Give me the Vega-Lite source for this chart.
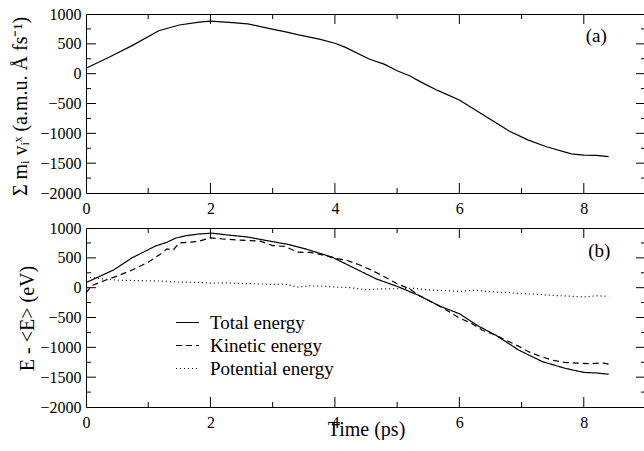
{
  "$schema": "https://vega.github.io/schema/vega-lite/v6.json",
  "padding": {"left": 9, "top": 5, "right": 0, "bottom": 0},
  "spacing": 2,
  "config": {
    "font": "Liberation Serif",
    "view": {"stroke": "black", "strokeWidth": 1},
    "axis": {
      "domain": false,
      "ticks": false,
      "labelColor": "black",
      "titleColor": "black",
      "labelFont": "Liberation Serif",
      "titleFont": "Liberation Serif",
      "labelFontSize": 16,
      "titleFontSize": 20,
      "titleFontWeight": "normal",
      "grid": false,
      "labelOverlap": false,
      "labelFlush": false
    },
    "tick": {"thickness": 1, "color": "black", "opacity": 1},
    "legend": {
      "labelFont": "Liberation Serif",
      "labelFontSize": 19,
      "labelColor": "black"
    }
  },
  "datasets": {
    "a": [
      {"t": 0, "v": 90}, {"t": 0.37, "v": 275}, {"t": 0.74, "v": 470}, {"t": 1.17, "v": 720},
      {"t": 1.5, "v": 816}, {"t": 1.82, "v": 865}, {"t": 2.0, "v": 880}, {"t": 2.3, "v": 860},
      {"t": 2.6, "v": 835}, {"t": 2.97, "v": 750}, {"t": 3.21, "v": 700}, {"t": 3.42, "v": 650},
      {"t": 3.75, "v": 580}, {"t": 4.0, "v": 510}, {"t": 4.17, "v": 440}, {"t": 4.55, "v": 245},
      {"t": 4.8, "v": 155}, {"t": 5.0, "v": 50}, {"t": 5.2, "v": -35}, {"t": 5.4, "v": -150},
      {"t": 5.66, "v": -285}, {"t": 6.0, "v": -440}, {"t": 6.4, "v": -700}, {"t": 6.8, "v": -960},
      {"t": 7.1, "v": -1110}, {"t": 7.4, "v": -1225}, {"t": 7.8, "v": -1345}, {"t": 8.0, "v": -1365},
      {"t": 8.2, "v": -1370}, {"t": 8.4, "v": -1390}
    ],
    "b": [
      {"s": "Total energy", "t": 0, "v": 85}, {"s": "Total energy", "t": 0.2, "v": 180},
      {"s": "Total energy", "t": 0.45, "v": 300}, {"s": "Total energy", "t": 0.74, "v": 500},
      {"s": "Total energy", "t": 1.12, "v": 700}, {"s": "Total energy", "t": 1.3, "v": 760},
      {"s": "Total energy", "t": 1.44, "v": 830}, {"s": "Total energy", "t": 1.6, "v": 870},
      {"s": "Total energy", "t": 1.82, "v": 900}, {"s": "Total energy", "t": 2.03, "v": 913},
      {"s": "Total energy", "t": 2.3, "v": 880}, {"s": "Total energy", "t": 2.59, "v": 850},
      {"s": "Total energy", "t": 2.9, "v": 790}, {"s": "Total energy", "t": 3.26, "v": 723},
      {"s": "Total energy", "t": 3.53, "v": 649}, {"s": "Total energy", "t": 3.96, "v": 510},
      {"s": "Total energy", "t": 4.28, "v": 344}, {"s": "Total energy", "t": 4.66, "v": 149},
      {"s": "Total energy", "t": 5.03, "v": 10}, {"s": "Total energy", "t": 5.35, "v": -130},
      {"s": "Total energy", "t": 5.68, "v": -307}, {"s": "Total energy", "t": 6.0, "v": -436},
      {"s": "Total energy", "t": 6.3, "v": -640}, {"s": "Total energy", "t": 6.59, "v": -799},
      {"s": "Total energy", "t": 6.96, "v": -1049}, {"s": "Total energy", "t": 7.34, "v": -1242},
      {"s": "Total energy", "t": 7.71, "v": -1354}, {"s": "Total energy", "t": 8.0, "v": -1420},
      {"s": "Total energy", "t": 8.2, "v": -1430}, {"s": "Total energy", "t": 8.4, "v": -1450},
      {"s": "Kinetic energy", "t": 0, "v": -85}, {"s": "Kinetic energy", "t": 0.1, "v": 37},
      {"s": "Kinetic energy", "t": 0.3, "v": 120}, {"s": "Kinetic energy", "t": 0.5, "v": 194},
      {"s": "Kinetic energy", "t": 0.75, "v": 300}, {"s": "Kinetic energy", "t": 1.0, "v": 427},
      {"s": "Kinetic energy", "t": 1.2, "v": 566}, {"s": "Kinetic energy", "t": 1.3, "v": 650},
      {"s": "Kinetic energy", "t": 1.4, "v": 630}, {"s": "Kinetic energy", "t": 1.5, "v": 750},
      {"s": "Kinetic energy", "t": 1.8, "v": 773}, {"s": "Kinetic energy", "t": 2.0, "v": 835},
      {"s": "Kinetic energy", "t": 2.2, "v": 816}, {"s": "Kinetic energy", "t": 2.6, "v": 789},
      {"s": "Kinetic energy", "t": 2.8, "v": 780}, {"s": "Kinetic energy", "t": 3.0, "v": 706},
      {"s": "Kinetic energy", "t": 3.2, "v": 690}, {"s": "Kinetic energy", "t": 3.4, "v": 595},
      {"s": "Kinetic energy", "t": 3.6, "v": 590}, {"s": "Kinetic energy", "t": 3.8, "v": 550},
      {"s": "Kinetic energy", "t": 4.0, "v": 494}, {"s": "Kinetic energy", "t": 4.2, "v": 455},
      {"s": "Kinetic energy", "t": 4.4, "v": 380}, {"s": "Kinetic energy", "t": 4.6, "v": 288},
      {"s": "Kinetic energy", "t": 4.8, "v": 180}, {"s": "Kinetic energy", "t": 5.0, "v": 66},
      {"s": "Kinetic energy", "t": 5.2, "v": -18}, {"s": "Kinetic energy", "t": 5.35, "v": -130},
      {"s": "Kinetic energy", "t": 5.68, "v": -307}, {"s": "Kinetic energy", "t": 6.0, "v": -508},
      {"s": "Kinetic energy", "t": 6.2, "v": -600}, {"s": "Kinetic energy", "t": 6.37, "v": -714},
      {"s": "Kinetic energy", "t": 6.55, "v": -780}, {"s": "Kinetic energy", "t": 6.75, "v": -881},
      {"s": "Kinetic energy", "t": 6.95, "v": -980}, {"s": "Kinetic energy", "t": 7.12, "v": -1077},
      {"s": "Kinetic energy", "t": 7.3, "v": -1150}, {"s": "Kinetic energy", "t": 7.5, "v": -1216},
      {"s": "Kinetic energy", "t": 7.7, "v": -1254}, {"s": "Kinetic energy", "t": 7.9, "v": -1265},
      {"s": "Kinetic energy", "t": 8.1, "v": -1275}, {"s": "Kinetic energy", "t": 8.3, "v": -1260},
      {"s": "Kinetic energy", "t": 8.4, "v": -1282},
      {"s": "Potential energy", "t": 0, "v": 177}, {"s": "Potential energy", "t": 0.25, "v": 150},
      {"s": "Potential energy", "t": 0.5, "v": 125}, {"s": "Potential energy", "t": 0.75, "v": 120},
      {"s": "Potential energy", "t": 1.0, "v": 115}, {"s": "Potential energy", "t": 1.25, "v": 110},
      {"s": "Potential energy", "t": 1.5, "v": 93}, {"s": "Potential energy", "t": 1.75, "v": 90},
      {"s": "Potential energy", "t": 2.0, "v": 77}, {"s": "Potential energy", "t": 2.25, "v": 80},
      {"s": "Potential energy", "t": 2.5, "v": 70}, {"s": "Potential energy", "t": 2.75, "v": 65},
      {"s": "Potential energy", "t": 3.0, "v": 53}, {"s": "Potential energy", "t": 3.2, "v": 60},
      {"s": "Potential energy", "t": 3.4, "v": 10}, {"s": "Potential energy", "t": 3.6, "v": 30},
      {"s": "Potential energy", "t": 3.8, "v": 25}, {"s": "Potential energy", "t": 4.0, "v": 10},
      {"s": "Potential energy", "t": 4.25, "v": 0}, {"s": "Potential energy", "t": 4.5, "v": -35},
      {"s": "Potential energy", "t": 4.75, "v": -20}, {"s": "Potential energy", "t": 5.0, "v": -18},
      {"s": "Potential energy", "t": 5.25, "v": -10}, {"s": "Potential energy", "t": 5.5, "v": -35},
      {"s": "Potential energy", "t": 5.75, "v": -50}, {"s": "Potential energy", "t": 6.0, "v": -63},
      {"s": "Potential energy", "t": 6.25, "v": -40}, {"s": "Potential energy", "t": 6.5, "v": -70},
      {"s": "Potential energy", "t": 6.75, "v": -80}, {"s": "Potential energy", "t": 7.0, "v": -102},
      {"s": "Potential energy", "t": 7.25, "v": -110}, {"s": "Potential energy", "t": 7.5, "v": -130},
      {"s": "Potential energy", "t": 7.75, "v": -140}, {"s": "Potential energy", "t": 8.0, "v": -157},
      {"s": "Potential energy", "t": 8.2, "v": -135}, {"s": "Potential energy", "t": 8.4, "v": -147}
    ],
    "la": [{"t": 8.2, "v": 632, "label": "(a)"}],
    "lb": [{"t": 8.25, "v": 616, "label": "(b)"}],
    "xmaj": [{"t": 2}, {"t": 4}, {"t": 6}, {"t": 8}],
    "xmin": [{"t": 1}, {"t": 3}, {"t": 5}, {"t": 7}],
    "ymaj": [{"v": -1500}, {"v": -1000}, {"v": -500}, {"v": 0}, {"v": 500}],
    "ymin": [{"v": -1750}, {"v": -1250}, {"v": -750}, {"v": -250}, {"v": 250}, {"v": 750}]
  },
  "vconcat": [
    {
      "width": 560,
      "height": 179,
      "resolve": {"axis": {"x": "independent", "y": "independent"}},
      "layer": [
        {
          "data": {"name": "a"},
          "mark": {"type": "line", "color": "black", "strokeWidth": 1.2},
          "encoding": {
            "x": {"field": "t", "type": "quantitative", "scale": {"domain": [0, 9], "nice": false, "zero": false},
              "axis": {"orient": "bottom", "title": null, "values": [0, 2, 4, 6, 8], "labelPadding": 7}},
            "y": {"field": "v", "type": "quantitative", "scale": {"domain": [-2000, 1000], "nice": false},
              "axis": {"orient": "left", "title": "Σ mᵢ vᵢˣ (a.m.u. Å fs⁻¹)",
                "titleX": -66, "titleY": 92, "titleAngle": 270, "titleAlign": "center", "titleBaseline": "middle",
                "values": [-2000, -1500, -1000, -500, 0, 500, 1000], "format": "d", "labelPadding": 5}}
          }
        },
        {
          "data": {"name": "la"},
          "mark": {"type": "text", "fontSize": 19, "font": "Liberation Serif", "color": "black"},
          "encoding": {
            "x": {"field": "t", "type": "quantitative", "scale": {"domain": [0, 9], "nice": false, "zero": false}, "axis": null},
            "y": {"field": "v", "type": "quantitative", "scale": {"domain": [-2000, 1000], "nice": false}, "axis": null},
            "text": {"field": "label"}
          }
        },
        {
          "data": {"name": "xmaj"},
          "mark": {"type": "tick", "orient": "vertical", "size": 10, "yOffset": -5},
          "encoding": {
            "x": {"field": "t", "type": "quantitative", "scale": {"domain": [0, 9], "nice": false, "zero": false}, "axis": null},
            "y": {"datum": -2000, "type": "quantitative", "scale": {"domain": [-2000, 1000], "nice": false}, "axis": null}
          }
        },
        {
          "data": {"name": "xmin"},
          "mark": {"type": "tick", "orient": "vertical", "size": 5, "yOffset": -2.5},
          "encoding": {
            "x": {"field": "t", "type": "quantitative", "scale": {"domain": [0, 9], "nice": false, "zero": false}, "axis": null},
            "y": {"datum": -2000, "type": "quantitative", "scale": {"domain": [-2000, 1000], "nice": false}, "axis": null}
          }
        },
        {
          "data": {"name": "xmaj"},
          "mark": {"type": "tick", "orient": "vertical", "size": 10, "yOffset": 5},
          "encoding": {
            "x": {"field": "t", "type": "quantitative", "scale": {"domain": [0, 9], "nice": false, "zero": false}, "axis": null},
            "y": {"datum": 1000, "type": "quantitative", "scale": {"domain": [-2000, 1000], "nice": false}, "axis": null}
          }
        },
        {
          "data": {"name": "xmin"},
          "mark": {"type": "tick", "orient": "vertical", "size": 5, "yOffset": 2.5},
          "encoding": {
            "x": {"field": "t", "type": "quantitative", "scale": {"domain": [0, 9], "nice": false, "zero": false}, "axis": null},
            "y": {"datum": 1000, "type": "quantitative", "scale": {"domain": [-2000, 1000], "nice": false}, "axis": null}
          }
        },
        {
          "data": {"name": "ymaj"},
          "mark": {"type": "tick", "orient": "horizontal", "size": 10, "xOffset": 5},
          "encoding": {
            "x": {"datum": 0, "type": "quantitative", "scale": {"domain": [0, 9], "nice": false, "zero": false}, "axis": null},
            "y": {"field": "v", "type": "quantitative", "scale": {"domain": [-2000, 1000], "nice": false}, "axis": null}
          }
        },
        {
          "data": {"name": "ymin"},
          "mark": {"type": "tick", "orient": "horizontal", "size": 5, "xOffset": 2.5},
          "encoding": {
            "x": {"datum": 0, "type": "quantitative", "scale": {"domain": [0, 9], "nice": false, "zero": false}, "axis": null},
            "y": {"field": "v", "type": "quantitative", "scale": {"domain": [-2000, 1000], "nice": false}, "axis": null}
          }
        },
        {
          "data": {"name": "ymaj"},
          "mark": {"type": "tick", "orient": "horizontal", "size": 10, "xOffset": -5},
          "encoding": {
            "x": {"datum": 9, "type": "quantitative", "scale": {"domain": [0, 9], "nice": false, "zero": false}, "axis": null},
            "y": {"field": "v", "type": "quantitative", "scale": {"domain": [-2000, 1000], "nice": false}, "axis": null}
          }
        },
        {
          "data": {"name": "ymin"},
          "mark": {"type": "tick", "orient": "horizontal", "size": 5, "xOffset": -2.5},
          "encoding": {
            "x": {"datum": 9, "type": "quantitative", "scale": {"domain": [0, 9], "nice": false, "zero": false}, "axis": null},
            "y": {"field": "v", "type": "quantitative", "scale": {"domain": [-2000, 1000], "nice": false}, "axis": null}
          }
        }
      ]
    },
    {
      "width": 560,
      "height": 179,
      "resolve": {"axis": {"x": "independent", "y": "independent"}},
      "layer": [
        {
          "data": {"name": "b"},
          "mark": {"type": "line", "color": "black", "strokeWidth": 1.2},
          "encoding": {
            "x": {"field": "t", "type": "quantitative", "scale": {"domain": [0, 9], "nice": false, "zero": false},
              "axis": {"orient": "bottom", "title": "Time (ps)", "titleY": 28, "titleBaseline": "alphabetic",
                "values": [0, 2, 4, 6, 8], "labelPadding": 7}},
            "y": {"field": "v", "type": "quantitative", "scale": {"domain": [-2000, 1000], "nice": false},
              "axis": {"orient": "left", "title": "E - <E> (eV)",
                "titleX": -59, "titleY": 90, "titleAngle": 270, "titleAlign": "center", "titleBaseline": "middle",
                "values": [-2000, -1500, -1000, -500, 0, 500, 1000], "format": "d", "labelPadding": 5}},
            "strokeDash": {"field": "s", "type": "nominal",
              "scale": {"domain": ["Total energy", "Kinetic energy", "Potential energy"], "range": [[1, 0], [6, 4], [1, 3]]},
              "legend": {"title": null, "orient": "none", "legendX": 89, "legendY": 296, "symbolType": "stroke",
                "symbolSize": 529, "symbolStrokeWidth": 1.2, "symbolStrokeColor": "black", "rowPadding": 0, "labelOffset": 10}},
            "detail": {"field": "s"}
          }
        },
        {
          "data": {"name": "lb"},
          "mark": {"type": "text", "fontSize": 19, "font": "Liberation Serif", "color": "black"},
          "encoding": {
            "x": {"field": "t", "type": "quantitative", "scale": {"domain": [0, 9], "nice": false, "zero": false}, "axis": null},
            "y": {"field": "v", "type": "quantitative", "scale": {"domain": [-2000, 1000], "nice": false}, "axis": null},
            "text": {"field": "label"}
          }
        },
        {
          "data": {"name": "xmaj"},
          "mark": {"type": "tick", "orient": "vertical", "size": 10, "yOffset": -5},
          "encoding": {
            "x": {"field": "t", "type": "quantitative", "scale": {"domain": [0, 9], "nice": false, "zero": false}, "axis": null},
            "y": {"datum": -2000, "type": "quantitative", "scale": {"domain": [-2000, 1000], "nice": false}, "axis": null}
          }
        },
        {
          "data": {"name": "xmin"},
          "mark": {"type": "tick", "orient": "vertical", "size": 5, "yOffset": -2.5},
          "encoding": {
            "x": {"field": "t", "type": "quantitative", "scale": {"domain": [0, 9], "nice": false, "zero": false}, "axis": null},
            "y": {"datum": -2000, "type": "quantitative", "scale": {"domain": [-2000, 1000], "nice": false}, "axis": null}
          }
        },
        {
          "data": {"name": "xmaj"},
          "mark": {"type": "tick", "orient": "vertical", "size": 10, "yOffset": 5},
          "encoding": {
            "x": {"field": "t", "type": "quantitative", "scale": {"domain": [0, 9], "nice": false, "zero": false}, "axis": null},
            "y": {"datum": 1000, "type": "quantitative", "scale": {"domain": [-2000, 1000], "nice": false}, "axis": null}
          }
        },
        {
          "data": {"name": "xmin"},
          "mark": {"type": "tick", "orient": "vertical", "size": 5, "yOffset": 2.5},
          "encoding": {
            "x": {"field": "t", "type": "quantitative", "scale": {"domain": [0, 9], "nice": false, "zero": false}, "axis": null},
            "y": {"datum": 1000, "type": "quantitative", "scale": {"domain": [-2000, 1000], "nice": false}, "axis": null}
          }
        },
        {
          "data": {"name": "ymaj"},
          "mark": {"type": "tick", "orient": "horizontal", "size": 10, "xOffset": 5},
          "encoding": {
            "x": {"datum": 0, "type": "quantitative", "scale": {"domain": [0, 9], "nice": false, "zero": false}, "axis": null},
            "y": {"field": "v", "type": "quantitative", "scale": {"domain": [-2000, 1000], "nice": false}, "axis": null}
          }
        },
        {
          "data": {"name": "ymin"},
          "mark": {"type": "tick", "orient": "horizontal", "size": 5, "xOffset": 2.5},
          "encoding": {
            "x": {"datum": 0, "type": "quantitative", "scale": {"domain": [0, 9], "nice": false, "zero": false}, "axis": null},
            "y": {"field": "v", "type": "quantitative", "scale": {"domain": [-2000, 1000], "nice": false}, "axis": null}
          }
        },
        {
          "data": {"name": "ymaj"},
          "mark": {"type": "tick", "orient": "horizontal", "size": 10, "xOffset": -5},
          "encoding": {
            "x": {"datum": 9, "type": "quantitative", "scale": {"domain": [0, 9], "nice": false, "zero": false}, "axis": null},
            "y": {"field": "v", "type": "quantitative", "scale": {"domain": [-2000, 1000], "nice": false}, "axis": null}
          }
        },
        {
          "data": {"name": "ymin"},
          "mark": {"type": "tick", "orient": "horizontal", "size": 5, "xOffset": -2.5},
          "encoding": {
            "x": {"datum": 9, "type": "quantitative", "scale": {"domain": [0, 9], "nice": false, "zero": false}, "axis": null},
            "y": {"field": "v", "type": "quantitative", "scale": {"domain": [-2000, 1000], "nice": false}, "axis": null}
          }
        }
      ]
    }
  ]
}
